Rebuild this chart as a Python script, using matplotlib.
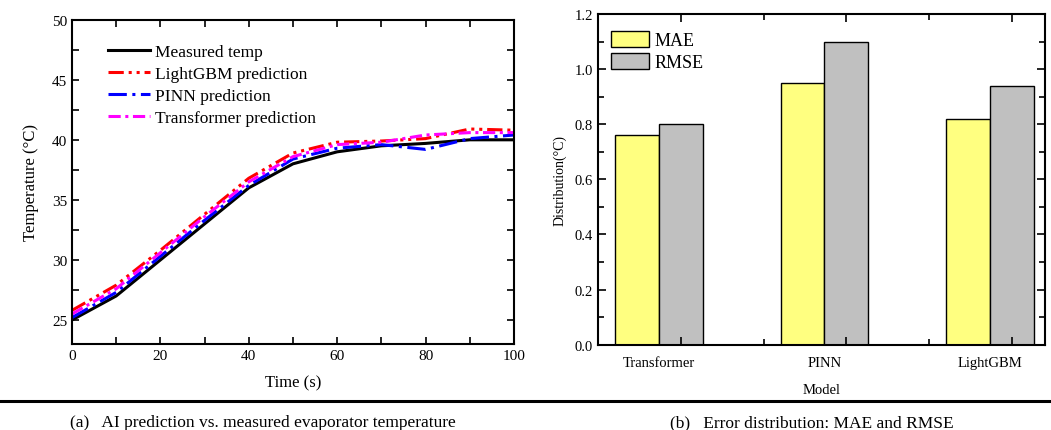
import numpy as np
import matplotlib.pyplot as plt
from matplotlib.ticker import MultipleLocator

plt.rcParams['font.family'] = ['Liberation Serif', 'DejaVu Serif']
plt.rcParams['xtick.direction'] = 'in'
plt.rcParams['ytick.direction'] = 'in'

# данные: температура испарителя
time_s = [0, 10, 20, 30, 40, 50, 60, 70, 80, 90, 100]
measured = [25.0, 27.0, 30.0, 33.0, 36.0, 38.0, 39.0, 39.5, 39.7, 40.0, 40.0]
lightgbm_pred = [25.8, 27.9, 30.8, 33.8, 36.8, 38.9, 39.8, 39.9, 40.1, 40.9, 40.8]
pinn_pred = [25.2, 27.3, 30.3, 33.3, 36.2, 38.4, 39.3, 39.6, 39.2, 40.1, 40.4]
transformer_pred = [25.5, 27.6, 30.6, 33.6, 36.5, 38.6, 39.6, 39.8, 40.4, 40.6, 40.6]

# данные: ошибки моделей
models = ['Transformer', 'PINN', 'LightGBM']
mae = [0.76, 0.95, 0.82]
rmse = [0.80, 1.10, 0.94]

fig = plt.figure(figsize=(10.51, 4.31), dpi=100)

# (a) прогноз vs. измерение
ax1 = fig.add_axes([0.0685, 0.1995, 0.4205, 0.7525])
ax1.plot(time_s, measured, color='black', lw=2.2, label='Measured temp')
ax1.plot(time_s, lightgbm_pred, color='red', lw=2.2, dashes=(5, 1.6, 1, 1.6, 1, 1.6),
         label='LightGBM prediction')
ax1.plot(time_s, pinn_pred, color='blue', lw=2.2, dashes=(6, 1.8, 1, 1.8),
         label='PINN prediction')
ax1.plot(time_s, transformer_pred, color='magenta', lw=2.2, dashes=(4, 1.5, 1, 1.5),
         label='Transformer prediction')
ax1.set_xlim(0, 100)
ax1.set_ylim(23, 50)
ax1.xaxis.set_major_locator(MultipleLocator(20))
ax1.xaxis.set_minor_locator(MultipleLocator(10))
ax1.yaxis.set_major_locator(MultipleLocator(5))
ax1.yaxis.set_minor_locator(MultipleLocator(2.5))
ax1.tick_params(which='both', top=True, right=True, labelsize=11, width=1.2)
ax1.tick_params(which='major', length=5)
ax1.tick_params(which='minor', length=5)
ax1.set_xlabel('Time (s)', fontsize=12, labelpad=9)
ax1.set_ylabel('Temperature (\u00b0C)', fontsize=12, labelpad=9)
for s in ax1.spines.values():
    s.set_linewidth(1.5)
ax1.legend(loc='upper left', bbox_to_anchor=(0.082, 0.925), frameon=False, fontsize=12.5,
           handlelength=2.4, handletextpad=0.3, labelspacing=0.34, borderaxespad=0, borderpad=0)

# (b) распределение ошибок
ax2 = fig.add_axes([0.569, 0.198, 0.4253, 0.767])
x = np.arange(len(models))
width = 0.265
ax2.bar(x - width, mae, width, color='#FFFF80', edgecolor='black', lw=1, label='MAE')
ax2.bar(x, rmse, width, color='#C0C0C0', edgecolor='black', lw=1, label='RMSE')
ax2.set_xlim(-0.5, 2.2)
ax2.set_ylim(0, 1.2)
ax2.set_xticks(x)
ax2.set_xticklabels([])
ax2.xaxis.set_minor_locator(MultipleLocator(0.5))
ax2.yaxis.set_major_locator(MultipleLocator(0.2))
ax2.yaxis.set_minor_locator(MultipleLocator(0.1))
ax2.yaxis.set_major_formatter(plt.FormatStrFormatter('%.1f'))
ax2.tick_params(which='both', top=True, right=True, labelsize=10.5, width=1.2)
ax2.tick_params(which='major', length=6)
ax2.tick_params(which='minor', length=4)
for xi, name in zip(x, models):
    ax2.text(xi - width / 2, -0.054, name, transform=ax2.get_xaxis_transform(),
             ha='center', va='center', fontsize=10.5)
ax2.set_xlabel('Model', fontsize=10.5, labelpad=24)
ax2.set_ylabel('Distribution(\u00b0C)', fontsize=10, labelpad=6)
for s in ax2.spines.values():
    s.set_linewidth(1.5)
ax2.legend(loc='upper left', bbox_to_anchor=(0.029, 0.95), frameon=False, fontsize=13,
           handlelength=2.1, handleheight=1.0, handletextpad=0.3, labelspacing=0.22,
           borderaxespad=0, borderpad=0)

# подписи под графиками
fig.add_artist(plt.Line2D([0, 1], [1 - 402 / 431, 1 - 402 / 431], color='black', lw=2.2,
                          transform=fig.transFigure))
fig.text(70 / 1051, 1 - 423 / 431, '(a)   AI prediction vs. measured evaporator temperature',
         fontsize=12.5, va='center')
fig.text(670 / 1051, 1 - 423 / 431, '(b)   Error distribution: MAE and RMSE',
         fontsize=12.5, va='center')

plt.savefig('out.png', dpi=100)
